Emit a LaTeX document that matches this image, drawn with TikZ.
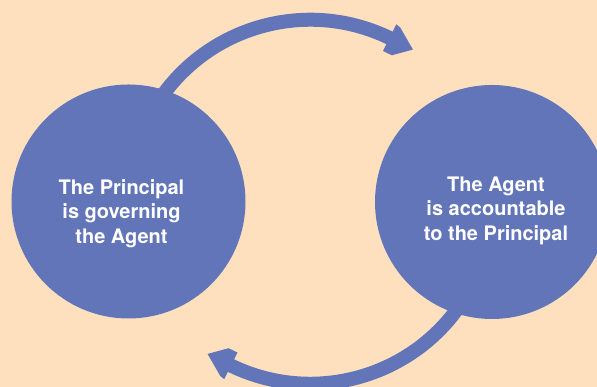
\documentclass[tikz,border=0pt]{standalone}
\usepackage{fontspec}
\setmainfont{TeX Gyre Heros}
\usetikzlibrary{calc}
\definecolor{bg}{RGB}{254,224,190}
\definecolor{blu}{RGB}{98,117,184}
\begin{document}
\begin{tikzpicture}[x=1pt,y=1pt,
  bubble/.style={circle, fill=blu, minimum size=234pt, inner sep=0pt},
  bubbletext/.style={text=white, font=\bfseries\fontsize{20}{24.5}\selectfont, align=center, inner sep=0pt},
  flow/.style={draw=blu, line width=14pt},
  headshape/.style={fill=blu}]
\useasboundingbox (0,0) rectangle (597,387);
\clip (0,0) rectangle (597,387);
\fill[bg] (0,0) rectangle (597,387);
\node[bubble] (P) at (128.5,185.5) {};
\node[bubble] (A) at (492,185) {};
\coordinate (C) at ($(P)!0.5!(A)$);
\node[bubbletext] (Pt) at (121.5,173.7) {The Principal\\is governing\\the Agent};
\node[bubbletext] (At) at (496,176.5) {The Agent\\is accountable\\to the Principal};
% top connector: from P to A
\draw[flow] ($(C)+(150:182)$) arc[start angle=150, end angle=63, radius=182];
\fill[headshape] ($(C)+(64.14:197.2)$) -- ($(C)+(62.68:196.1)$) -- ($(C)+(55.99:183.6)$) -- ($(C)+(60.85:167.7)$) -- ($(C)+(64.26:167.4)$) -- cycle;
% bottom connector: from A to P
\draw[flow] ($(C)+(330:182)$) arc[start angle=330, end angle=243, radius=182];
\fill[headshape] ($(C)+(244.14:197.2)$) -- ($(C)+(242.68:196.1)$) -- ($(C)+(235.99:183.6)$) -- ($(C)+(240.85:167.7)$) -- ($(C)+(244.26:167.4)$) -- cycle;
\end{tikzpicture}
\end{document}
